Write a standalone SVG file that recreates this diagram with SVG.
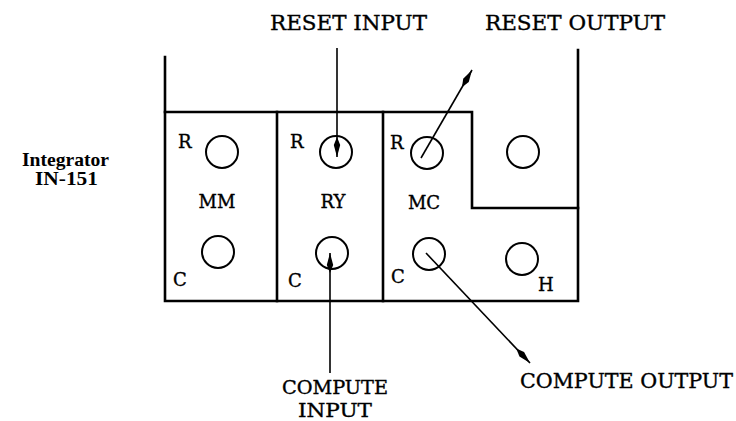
<svg xmlns="http://www.w3.org/2000/svg" width="736" height="421" viewBox="0 0 736 421">
<style>
  .frame { fill: none; stroke: #000; stroke-width: 2.6; stroke-linecap: square; }
  .jack { fill: none; stroke: #000; stroke-width: 2; }
  .lbl { font-family: "DejaVu Serif", "Liberation Serif", serif; font-size: 18px; fill: #000; stroke: #000; stroke-width: 0.35; }
  .cap { font-family: "DejaVu Serif", "Liberation Serif", serif; font-size: 20px; fill: #000; stroke: #000; stroke-width: 0.35; }
  .cap2 { font-family: "DejaVu Serif", "Liberation Serif", serif; font-size: 18px; fill: #000; stroke: #000; stroke-width: 0.35; }
  .side { font-family: "Liberation Serif", "Times New Roman", serif; font-size: 19px; font-weight: bold; fill: #000; }
  .wire { fill: none; stroke: #000; stroke-width: 1.6; }
</style>
<defs>
  <marker id="spindle" markerUnits="userSpaceOnUse" viewBox="0 0 20 8" refX="20" refY="4" markerWidth="20" markerHeight="8" orient="auto">
    <path d="M0,4 L8,0.8 L20,4 L8,7.2 Z" fill="#000"/>
  </marker>
</defs>
<rect width="736" height="421" fill="#fff"/>

<g id="panel">
  <path class="frame" d="M165,57 V301 H578 V50"/>
  <path class="frame" d="M165,112 H472 V208 H578"/>
  <path class="frame" d="M277,112 V301"/>
  <path class="frame" d="M383,112 V301"/>
</g>

<g id="node-MM">
  <circle class="jack" cx="222" cy="152" r="16"/>
  <circle class="jack" cx="218" cy="252" r="16"/>
  <text class="lbl" x="178" y="148">R</text>
  <text class="lbl" x="217" y="208" text-anchor="middle">MM</text>
  <text class="lbl" x="173" y="286">C</text>
</g>

<g id="node-RY">
  <circle class="jack" cx="336" cy="152" r="16"/>
  <circle class="jack" cx="332" cy="253" r="16"/>
  <text class="lbl" x="290" y="148">R</text>
  <text class="lbl" x="333" y="208" text-anchor="middle">RY</text>
  <text class="lbl" x="288" y="287">C</text>
</g>

<g id="node-MC">
  <circle class="jack" cx="427" cy="153" r="16"/>
  <circle class="jack" cx="429" cy="254" r="16"/>
  <circle class="jack" cx="523" cy="152" r="16"/>
  <circle class="jack" cx="522" cy="259" r="16"/>
  <text class="lbl" x="390" y="149">R</text>
  <text class="lbl" x="424" y="209" text-anchor="middle">MC</text>
  <text class="lbl" x="391" y="283">C</text>
  <text class="lbl" x="538" y="291">H</text>
</g>

<g id="node-integrator">
  <text class="side" x="22" y="166" textLength="87" lengthAdjust="spacingAndGlyphs">Integrator</text>
  <text class="side" x="35" y="185" textLength="63" lengthAdjust="spacingAndGlyphs">IN-151</text>
</g>

<g id="connectors">
  <line class="wire" x1="337" y1="48" x2="337" y2="157" marker-end="url(#spindle)"/>
  <line class="wire" x1="421" y1="158" x2="472" y2="70" marker-end="url(#spindle)"/>
  <line class="wire" x1="330" y1="373" x2="330" y2="253" marker-end="url(#spindle)"/>
  <line class="wire" x1="426" y1="253" x2="530" y2="363" marker-end="url(#spindle)"/>
</g>

<g id="labels">
  <text class="cap" x="270" y="30" textLength="157" lengthAdjust="spacingAndGlyphs">RESET INPUT</text>
  <text class="cap" x="485" y="30" textLength="180" lengthAdjust="spacingAndGlyphs">RESET OUTPUT</text>
  <text class="cap2" x="282" y="394" textLength="106" lengthAdjust="spacingAndGlyphs">COMPUTE</text>
  <text class="cap2" x="298" y="417" textLength="74" lengthAdjust="spacingAndGlyphs">INPUT</text>
  <text class="cap" x="520" y="388" textLength="213" lengthAdjust="spacingAndGlyphs">COMPUTE  OUTPUT</text>
</g>
</svg>
